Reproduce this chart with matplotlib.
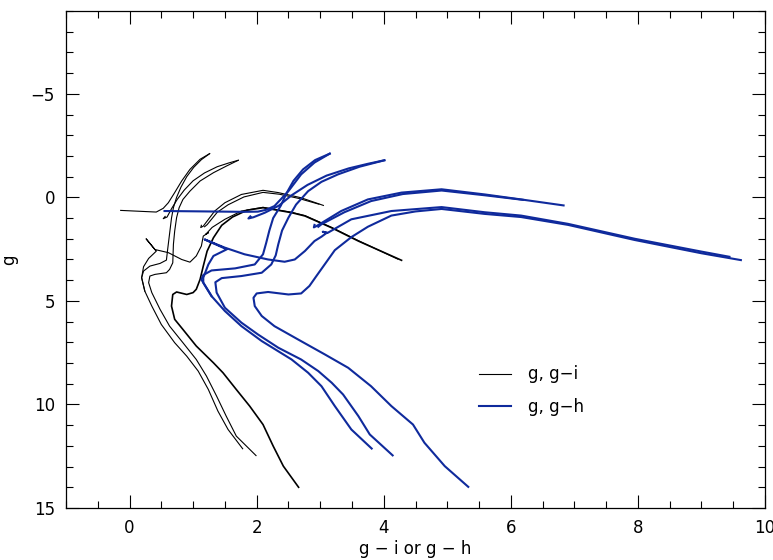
import matplotlib
matplotlib.use("Agg")
import matplotlib.pyplot as plt
from matplotlib.ticker import MultipleLocator

# ---- g, g-i isochrones (black) ----
gi_ms1_x = [1.78, 1.55, 1.39, 1.24, 1.08, 0.90, 0.71, 0.50, 0.35, 0.24, 0.19, 0.22, 0.32, 0.48, 0.58,
            0.60, 0.62, 0.64, 0.66, 0.69, 0.74, 0.81, 0.90, 1.01, 1.13, 1.26]
gi_ms1_y = [12.14, 11.21, 10.32, 9.28, 8.39, 7.67, 7.02, 6.14, 5.25, 4.53, 3.88, 3.56, 3.32, 3.19, 3.03,
            2.5, 2.0, 1.5, 1.0, 0.5, 0.0, -0.5, -1.0, -1.45, -1.82, -2.11]

gi_ms2_x = [1.99, 1.68, 1.52, 1.37, 1.21, 1.05, 0.84, 0.63, 0.48, 0.35, 0.30, 0.32, 0.40, 0.58, 0.63,
            0.68, 0.69, 0.71, 0.74, 0.78, 0.84, 0.95, 1.11, 1.32, 1.53, 1.71]
gi_ms2_y = [12.47, 11.53, 10.56, 9.60, 8.63, 7.83, 7.02, 6.22, 5.41, 4.60, 4.12, 3.80, 3.72, 3.64, 3.48,
            3.16, 2.27, 1.63, 0.98, 0.50, 0.10, -0.30, -0.79, -1.19, -1.52, -1.79]

gi_ms3_x = [2.66, 2.42, 2.26, 2.10, 1.89, 1.68, 1.47, 1.32, 1.05, 0.84, 0.71, 0.66, 0.68, 0.74, 0.90,
            1.00, 1.05, 1.11, 1.16, 1.22, 1.32, 1.45, 1.62, 1.85, 2.10, 2.55, 2.76, 3.18, 3.60, 4.28]
gi_ms3_y = [14.0, 12.98, 12.01, 10.97, 10.08, 9.28, 8.47, 7.99, 7.18, 6.38, 5.89, 5.25, 4.69, 4.57, 4.69,
            4.60, 4.44, 3.96, 3.32, 2.60, 1.95, 1.35, 0.95, 0.62, 0.50, 0.74, 0.90, 1.47, 2.11, 3.04]

gi_young_x = [0.24, 0.19, 0.22, 0.30, 0.42, 0.26, 0.40, 0.61, 0.82, 0.95, 1.05, 1.13, 1.16, 1.24, 1.20,
              1.30, 1.50, 1.76, 2.10, 2.55, 2.76, 3.18, 3.60, 4.22]
gi_young_y = [4.53, 3.88, 3.35, 2.95, 2.60, 2.00, 2.52, 2.67, 3.00, 3.13, 2.83, 2.35, 1.87, 1.71, 1.78,
              1.45, 1.06, 0.66, 0.48, 0.72, 0.88, 1.45, 2.09, 2.98]

gi_hb_x = [-0.14, 0.42, 0.53, 0.61, 0.71, 0.82, 0.95, 1.11, 1.26]
gi_hb_y = [0.63, 0.71, 0.53, 0.26, -0.23, -0.79, -1.35, -1.84, -2.11]

gi_agb1_x = [0.56, 0.53, 0.59, 0.66, 0.75, 0.86, 1.00, 1.18, 1.38, 1.56, 1.71]
gi_agb1_y = [0.92, 1.03, 0.95, 0.55, 0.10, -0.35, -0.80, -1.18, -1.48, -1.66, -1.79]

gi_agb2_x = [1.13, 1.12, 1.16, 1.34, 1.50, 1.76, 2.10, 2.34, 2.70, 3.05]
gi_agb2_y = [1.35, 1.46, 1.39, 0.66, 0.26, -0.14, -0.34, -0.23, 0.02, 0.39]

gi_agb3_x = [1.18, 1.22, 1.38, 1.55, 1.80, 2.10, 2.36, 2.66, 2.98]
gi_agb3_y = [1.42, 1.32, 0.72, 0.36, -0.02, -0.24, -0.15, 0.05, 0.33]

# ---- g, g-h isochrones (blue) ----
gh_ms1_x = [3.81, 3.49, 3.23, 3.02, 2.81, 2.55, 2.08, 1.76, 1.50, 1.29, 1.16, 1.13, 1.16, 1.29, 1.66,
            1.97, 2.10, 2.15, 2.20, 2.26, 2.38, 2.47, 2.58, 2.73, 2.92, 3.15]
gh_ms1_y = [12.13, 11.21, 10.08, 9.12, 8.47, 7.83, 6.94, 6.22, 5.49, 4.77, 4.12, 3.97, 3.75, 3.53, 3.43,
            3.24, 2.75, 2.2, 1.6, 1.0, 0.4, -0.2, -0.8, -1.35, -1.8, -2.11]

gh_ms2_x = [4.14, 3.78, 3.60, 3.36, 3.18, 2.97, 2.70, 2.34, 2.02, 1.76, 1.50, 1.37, 1.35, 1.45, 1.76,
            2.08, 2.23, 2.30, 2.34, 2.40, 2.50, 2.62, 2.81, 3.02, 3.28, 3.62, 4.01]
gh_ms2_y = [12.46, 11.45, 10.56, 9.52, 8.95, 8.39, 7.83, 7.26, 6.62, 6.05, 5.33, 4.60, 4.10, 3.90, 3.80,
            3.64, 3.24, 2.80, 2.27, 1.60, 0.98, 0.35, -0.30, -0.75, -1.11, -1.48, -1.79]

gh_ms3_x = [5.33, 4.96, 4.64, 4.46, 4.12, 3.80, 3.44, 3.07, 2.65, 2.28, 2.08, 1.97, 1.95, 2.00, 2.18,
            2.50, 2.70, 2.83, 2.94, 3.07, 3.23, 3.49, 3.75, 4.12, 4.50, 4.91, 5.59, 6.16, 6.90, 7.95,
            9.00, 9.62]
gh_ms3_y = [13.98, 12.98, 11.85, 10.97, 10.08, 9.12, 8.23, 7.58, 6.86, 6.22, 5.73, 5.25, 4.85, 4.64, 4.57,
            4.69, 4.64, 4.28, 3.80, 3.24, 2.55, 1.92, 1.42, 0.88, 0.68, 0.56, 0.80, 0.95, 1.33, 2.06,
            2.70, 3.03]

gh_young_x = [1.29, 1.16, 1.16, 1.24, 1.32, 1.53, 1.18, 1.50, 1.81, 2.18, 2.44, 2.60, 2.76, 2.91, 3.02,
              3.10, 3.04, 3.12, 3.49, 4.12, 4.91, 5.59, 6.16, 6.90, 7.95, 9.00, 9.44]
gh_young_y = [4.77, 4.12, 3.88, 3.24, 2.83, 2.51, 2.03, 2.43, 2.75, 3.00, 3.11, 3.00, 2.59, 2.11, 1.90,
              1.72, 1.66, 1.71, 1.06, 0.66, 0.47, 0.72, 0.88, 1.28, 2.00, 2.62, 2.87]

gh_hb_x = [0.55, 1.20, 1.80, 2.02, 2.15, 2.28, 2.50, 2.70, 2.91, 3.15]
gh_hb_y = [0.66, 0.68, 0.70, 0.69, 0.60, 0.42, -0.30, -1.11, -1.68, -2.11]

gh_agb1_x = [1.90, 1.87, 1.95, 2.13, 2.35, 2.55, 2.80, 3.10, 3.45, 3.75, 4.01]
gh_agb1_y = [0.92, 1.02, 0.96, 0.74, 0.40, -0.10, -0.60, -1.05, -1.40, -1.62, -1.79]

gh_agb2_x = [2.91, 2.90, 2.94, 3.33, 3.75, 4.28, 4.91, 5.59, 6.16, 6.83]
gh_agb2_y = [1.33, 1.45, 1.39, 0.66, 0.10, -0.23, -0.39, -0.14, 0.10, 0.39]

gh_agb3_x = [2.97, 3.02, 3.38, 3.80, 4.30, 4.91, 5.59, 6.19]
gh_agb3_y = [1.42, 1.30, 0.72, 0.18, -0.16, -0.33, -0.10, 0.12]

BLUE = '#0f2a9c'

plt.rcParams['font.family'] = ['DejaVu Sans']

fig = plt.figure(figsize=(7.73, 5.60), dpi=100)
ax = fig.add_axes([0.0854, 0.0929, 0.9043, 0.8875])

black_lines = [(gi_ms1_x, gi_ms1_y, 0.8), (gi_ms2_x, gi_ms2_y, 0.8), (gi_ms3_x, gi_ms3_y, 1.2),
               (gi_young_x, gi_young_y, 0.8), (gi_hb_x, gi_hb_y, 0.8), (gi_agb1_x, gi_agb1_y, 0.8),
               (gi_agb2_x, gi_agb2_y, 0.8), (gi_agb3_x, gi_agb3_y, 0.8)]
blue_lines = [(gh_ms1_x, gh_ms1_y), (gh_ms2_x, gh_ms2_y), (gh_ms3_x, gh_ms3_y),
              (gh_young_x, gh_young_y), (gh_hb_x, gh_hb_y), (gh_agb1_x, gh_agb1_y),
              (gh_agb2_x, gh_agb2_y), (gh_agb3_x, gh_agb3_y)]

for i, (x, y, lw) in enumerate(black_lines):
    ax.plot(x, y, color='black', lw=lw, label='g, g\u2212i' if i == 0 else None)
for i, (x, y) in enumerate(blue_lines):
    ax.plot(x, y, color=BLUE, lw=1.5, label='g, g\u2212h' if i == 0 else None)

ax.set_xlim(-1, 10)
ax.set_ylim(15, -9)
ax.xaxis.set_major_locator(MultipleLocator(2))
ax.xaxis.set_minor_locator(MultipleLocator(0.5))
ax.yaxis.set_major_locator(MultipleLocator(5))
ax.yaxis.set_minor_locator(MultipleLocator(1))
ax.tick_params(which='both', direction='in', top=True, right=True, width=0.8, labelsize=12, pad=8)
ax.tick_params(which='major', length=9.5)
ax.tick_params(which='minor', length=4.8)
for s in ax.spines.values():
    s.set_linewidth(0.9)

ax.set_xlabel('g \u2212 i or g \u2212 h', fontsize=12, labelpad=2)
ax.set_ylabel('g', fontsize=12, labelpad=9)

ax.legend(loc='upper left', bbox_to_anchor=(0.57, 0.317), frameon=False, fontsize=12,
          handlelength=1.9, handletextpad=1.0, labelspacing=0.85)

fig.savefig('out.png', dpi=100)
